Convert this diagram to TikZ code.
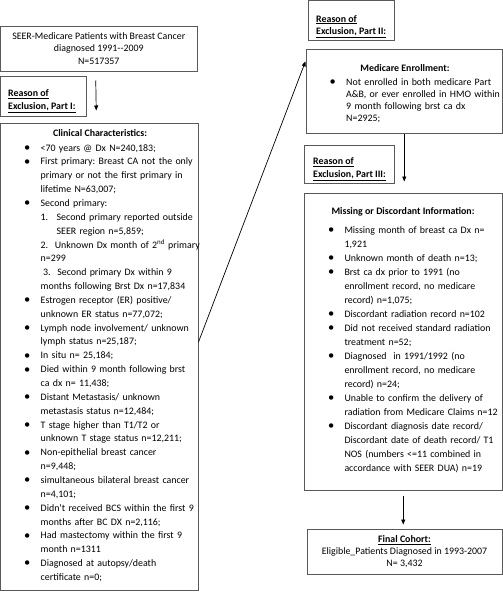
\documentclass[tikz,border=0pt]{standalone}
\usepackage{fontspec}
\setmainfont{Carlito}
\usetikzlibrary{arrows.meta,shadows}
\setlength{\parskip}{0pt}
\frenchspacing
\def\bulmark{\raisebox{-0.4pt}{\fontsize{12.5}{12.5}\selectfont\textbullet}}
\def\bul#1{\par\noindent\makebox[16.5pt][l]{\bulmark}#1}
\def\hd#1{\underline{\textbf{#1}}}
\def\fs#1{\fontsize{9.9}{#1}\selectfont}
\def\nl{\newline\hspace*{16.5pt}}
\tikzset{
	box/.style={draw=black!65, line width=1pt, fill=white, inner sep=0pt,
		drop shadow={shadow xshift=1.2pt, shadow yshift=-1.2pt, fill=black!25, opacity=0.7}},
	txt/.style={anchor=north west, inner sep=0pt, align=left},
	arr/.style={-{Triangle[length=5pt,width=4pt]}, line width=0.7pt, black}
}

\begin{document}
\begin{tikzpicture}[x=1pt,y=-1pt]
			%%%%% START %%%%%
			\useasboundingbox (0,0) rectangle (503,600);
			
			% left column
			\node[box, minimum width=196.5pt, minimum height=45pt, align=center, font=\fs{12.5}] (seer) at (98.75,48.5)
				{SEER-Medicare Patients with Breast Cancer\\diagnosed 1991-{}-2009\\N=517357};
			
			\node[box, minimum width=85.5pt, minimum height=40pt] (r1) at (43.25,96) {};
			\node[txt, font=\fs{13}] (r1-txt) at (8,89.5) {\hd{Reason of}\\\hd{Exclusion, Part I:}};
			
			\node[box, minimum width=197.5pt, minimum height=467pt] (clin) at (99.25,356.5) {};
			\node[font=\fs{13.85}\bfseries, inner sep=0pt] (clin-hd) at (100,133) {Clinical Characteristics:};
			\node[txt, text width=176pt, font=\fs{13.85}] (clin-list) at (24,137) {%
				\bul{<70 years @ Dx N=240,183;}
				\bul{First primary: Breast CA not the only\nl primary or not the first primary in\nl lifetime N=63,007;}
				\bul{Second primary:}
				\par\noindent\hspace*{16.5pt}\makebox[16pt][l]{1.}Second primary reported outside\newline\hspace*{32.5pt}SEER region n=5,859;
				\par\noindent\hspace*{16.5pt}2.\ \ Unknown Dx month of 2\textsuperscript{nd} primary\nl n=299
				\par\noindent\hspace*{19pt}3.\ \ Second primary Dx within 9\nl months following Brst Dx n=17,834
				\bul{Estrogen receptor (ER) positive/\nl unknown ER status n=77,072;}
				\bul{Lymph node involvement/ unknown\nl lymph status n=25,187;}
				\bul{In situ n= 25,184;}
				\bul{Died within 9 month following brst\nl ca dx n= 11,438;}
				\bul{Distant Metastasis/ unknown\nl metastasis status n=12,484;}
				\bul{T stage higher than T1/T2 or\nl unknown T stage status n=12,211;}
				\bul{Non-epithelial breast cancer\nl n=9,448;}
				\bul{simultaneous bilateral breast cancer\nl n=4,101;}
				\bul{Didn't received BCS within the first 9\nl months after BC DX n=2,116;}
				\bul{Had mastectomy within the first 9\nl month n=1311}
				\bul{Diagnosed at autopsy/death\nl certificate n=0;}};
			
			% right column
			\node[box, minimum width=86pt, minimum height=40pt] (r2) at (351,20) {};
			\node[txt, font=\fs{12}] (r2-txt) at (316,15) {\hd{Reason of}\\\hd{Exclusion, Part II:}};
			
			\node[box, minimum width=195.5pt, minimum height=84pt] (med) at (404.25,91) {};
			\node[font=\fs{12.3}\bfseries, inner sep=0pt] (med-hd) at (405,68) {Medicare Enrollment:};
			\node[txt, text width=172pt, font=\fs{12.3}] (med-list) at (329.5,72.5) {%
				\bul{Not enrolled in both medicare Part\nl A\&B, or ever enrolled in HMO within\nl 9 month following brst ca dx\nl N=2925;}};
			
			\node[box, minimum width=90pt, minimum height=38pt] (r3) at (349,164) {};
			\node[txt, font=\fs{13}] (r3-txt) at (313,157.5) {\hd{Reason of}\\\hd{Exclusion, Part III:}};
			
			\node[box, minimum width=197.5pt, minimum height=297pt] (miss) at (403.25,341.5) {};
			\node[font=\fs{14}\bfseries, inner sep=0pt] (miss-hd) at (403,212) {Missing or Discordant Information:};
			\node[txt, text width=174pt, font=\fs{14}] (miss-list) at (327.8,219) {%
				\bul{Missing month of breast ca Dx n=\nl 1,921}
				\bul{Unknown month of death n=13;}
				\bul{Brst ca dx prior to 1991 (no\nl enrollment record, no medicare\nl record) n=1,075;}
				\bul{Discordant radiation record n=102}
				\bul{Did not received standard radiation\nl treatment n=52;}
				\bul{Diagnosed\ \ in 1991/1992 (no\nl enrollment record, no medicare\nl record) n=24;}
				\bul{Unable to confirm the delivery of\nl radiation from Medicare Claims n=12}
				\bul{Discordant diagnosis date record/\nl Discordant date of death record/ T1\nl NOS (numbers <=11 combined in\nl accordance with SEER DUA) n=19}};
			
			\node[box, minimum width=195pt, minimum height=45pt, align=center, font=\fs{12}] (fin) at (404.5,551.5)
				{\hd{Final Cohort:}\\Eligible\_Patients Diagnosed in 1993-2007\\N= 3,432};
			
			% arrows
			\draw[arr] ([xshift=-3pt,yshift=-9pt]seer.south) -- ([xshift=-3pt,yshift=12pt]clin.north);
			\draw[arr, shorten >=1.5pt] ([yshift=14.5pt]clin.east) -- ([yshift=31pt]med.west);
			\draw[arr, shorten >=11pt] (med.south) -- (med.south |- miss.north);
			\draw[arr, shorten <=5pt, shorten >=4pt] (miss.south) -- (miss.south |- fin.north);
			
			%%%%% END %%%%%
\end{tikzpicture}
\end{document}
